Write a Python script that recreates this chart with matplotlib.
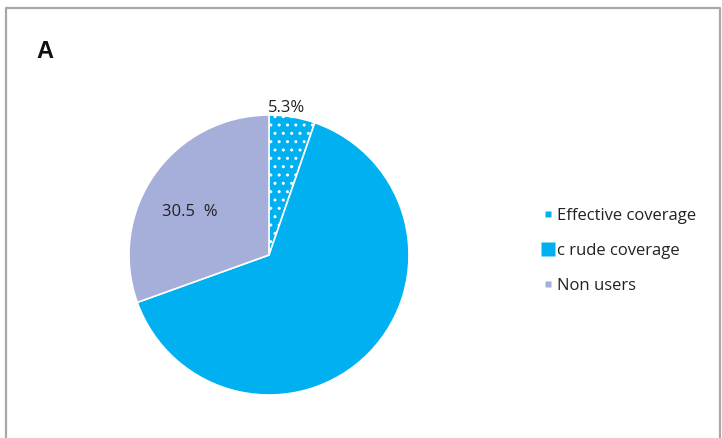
import matplotlib.pyplot as plt
from matplotlib.lines import Line2D

###
# DATA
###
LABELS = ['Effective coverage', 'c rude coverage', 'Non users']
VALUES = [5.3, 64.2, 30.5]
COLORS = ['#00B0F0', '#00B0F0', '#A6AEDA']
TEXTS = ['5.3%', '', '30.5  %']

W, H = 722, 438
fig = plt.figure(figsize=(W / 100, H / 100), dpi=100)
ax = fig.add_axes([0, 0, 1, 1])

# outer frame (cut off at bottom in the reference)
ax.plot([6, 6, 720, 720], [-5, H - 8, H - 8, -5], color='#A8A8A8', lw=1.6, clip_on=False)

wedges, _ = ax.pie(VALUES, colors=COLORS, startangle=90, counterclock=False,
                   center=(269, H - 255), radius=140, frame=True,
                   wedgeprops=dict(edgecolor='white', linewidth=1.2))
wedges[0].set_hatch('..')
ax.set_xlim(0, W)
ax.set_ylim(0, H)
ax.set_aspect('equal')
ax.axis('off')

ax.text(287, H - 108, TEXTS[0], ha='center', va='center', fontsize=12,
        family='Open Sans', color='#222222')
ax.text(190, H - 212, TEXTS[2], ha='center', va='center', fontsize=12,
        family='Open Sans', color='#222222')
ax.text(45, H - 52, 'A', ha='center', va='center', fontsize=17, weight='bold',
        family='Liberation Sans', color='#111111')

handles = [Line2D([], [], ls='none', marker='s', ms=ms, color=c, mec='none')
           for c, ms in zip(COLORS, [4, 10, 4.5])]
ax.legend(handles, LABELS, loc='center left', bbox_to_anchor=(528 / W, 1 - 251 / H),
          frameon=False, handlelength=0.6, handletextpad=0.25, labelspacing=1.15,
          prop=dict(family='Open Sans', size=12), labelcolor='#222222')

fig.savefig('out.png', dpi=100)
